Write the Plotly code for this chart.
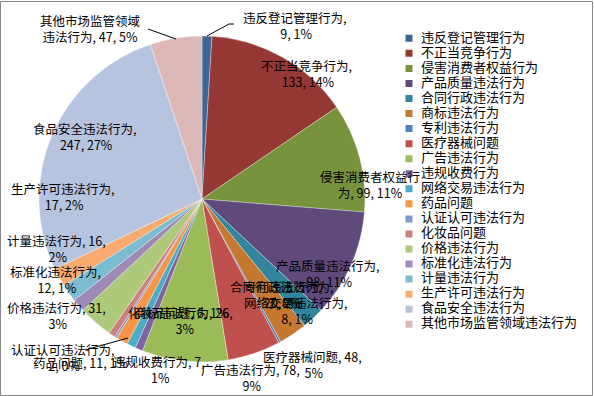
import plotly.graph_objects as go

# ---------------- data ----------------
categories = ["违反登记管理行为", "不正当竞争行为", "侵害消费者权益行为", "产品质量违法行为",
              "合同行政违法行为", "商标违法行为", "专利违法行为", "医疗器械问题", "广告违法行为",
              "违规收费行为", "网络交易违法行为", "药品问题", "认证认可违法行为", "化妆品问题",
              "价格违法行为", "标准化违法行为", "计量违法行为", "生产许可违法行为",
              "食品安全违法行为", "其他市场监管领域违法行为"]
values = [9, 133, 99, 98, 20, 26, 2, 48, 78, 7, 8, 11, 2, 6, 31, 12, 16, 17, 247, 47]
pct_labels = ["1%", "14%", "11%", "11%", "2%", "3%", "0%", "5%", "9%", "1%",
              "1%", "1%", "0%", "1%", "3%", "1%", "2%", "2%", "27%", "5%"]

# ---------------- styles ----------------
colors = ["#3D6596", "#953735", "#77933C", "#604A7B", "#31859C", "#C5782F",
          "#4F81BD", "#C0504D", "#9BBB59", "#8064A2", "#4BACC6", "#F79646",
          "#7F9ACF", "#CD7F7D", "#AFC97A", "#9F8AB7", "#7CBCD0", "#F9AB6F",
          "#B7C4DF", "#DDB8B8"]

W, H = 594, 396
FONT = "Noto Sans CJK SC"


def px(x, y):
    return x / W, 1 - y / H


def lab(i, split):
    full = f"{categories[i]}, {values[i]}, {pct_labels[i]}"
    return full[:split] + "<br>" + full[split:] if split else full


# label layout: (index, split position in text, center x px, center y px)
label_layout = [
    (0, 9, 294, 25),
    (1, 8, 306, 73),
    (2, 8, 370, 184),
    (3, 9, 327, 273),
    (4, 9, 281, 294),
    (6, 7, 283, 294),
    (10, 9, 295, 310),
    (7, 11, 312, 364),
    (8, 11, 250, 377),
    (9, 11, 160, 369),
    (11, 0, 80, 362),
    (12, 9, 62, 357),
    (14, 11, 57, 315),
    (15, 8, 55, 279),
    (16, 11, 57, 248),
    (17, 9, 62, 196),
    (18, 9, 85, 136),
    (19, 8, 90, 28),
    (5, 11, 183, 320),
    (13, 0, 178, 312),
]

fig = go.Figure()

cx, cy, r = 202, 199, 163
fig.add_trace(go.Pie(
    labels=categories, values=values, sort=False, direction="clockwise", rotation=0,
    marker=dict(colors=colors, line=dict(color="rgba(255,255,255,0.55)", width=0.6)),
    textinfo="none", showlegend=False, hoverinfo="label+value+percent",
    domain=dict(x=[(cx - r) / W, (cx + r) / W], y=[(H - cy - r) / H, (H - cy + r) / H]),
))

# custom legend drawn with scatter on a hidden axis
n = len(categories)
idx = list(range(n))
fig.add_trace(go.Scatter(
    x=[9] * n, y=idx, mode="markers",
    marker=dict(symbol="square", size=7, color=colors, line=dict(width=0)),
    showlegend=False, hoverinfo="skip", xaxis="x", yaxis="y"))
fig.add_trace(go.Scatter(
    x=[21] * n, y=idx, mode="text", text=categories, textposition="middle right",
    textfont=dict(family=FONT, size=13, color="#000000"),
    showlegend=False, hoverinfo="skip", xaxis="x", yaxis="y"))

leg_top, leg_step = 38.3, 15.05
y_top_px = leg_top - leg_step / 2
y_bot_px = leg_top + leg_step * (n - 1) + leg_step / 2

annotations = []
for i, sp, x, y in label_layout:
    ax, ay = px(x, y)
    annotations.append(dict(
        x=ax, y=ay, xref="paper", yref="paper", text=lab(i, sp), showarrow=False,
        xanchor="center", yanchor="middle", align="center",
        font=dict(family=FONT, size=12.5, color="#000000")))

leaders = [
    [(207, 36), (229, 24), (234, 24)],
    [(148, 29), (176, 39)],
    [(85, 350), (128, 338)],
]
shapes = []
for pts in leaders:
    for (x0, y0), (x1, y1) in zip(pts[:-1], pts[1:]):
        a0, b0 = px(x0, y0)
        a1, b1 = px(x1, y1)
        shapes.append(dict(type="line", xref="paper", yref="paper", x0=a0, y0=b0, x1=a1, y1=b1,
                           line=dict(color="#000000", width=1)))
shapes.append(dict(type="rect", xref="paper", yref="paper", x0=0.5 / W, y0=0.5 / H,
                   x1=1 - 1.5 / W, y1=1 - 1.5 / H, line=dict(color="#868686", width=1)))

fig.update_layout(
    width=W, height=H, margin=dict(l=0, r=0, t=0, b=0),
    paper_bgcolor="white", plot_bgcolor="rgba(0,0,0,0)",
    xaxis=dict(domain=[400 / W, 1], range=[0, W - 400], visible=False, fixedrange=True),
    yaxis=dict(domain=[1 - y_bot_px / H, 1 - y_top_px / H], range=[n - 0.5, -0.5],
               visible=False, fixedrange=True),
    annotations=annotations, shapes=shapes, showlegend=False,
    font=dict(family=FONT),
)

fig.write_html("out.html")
